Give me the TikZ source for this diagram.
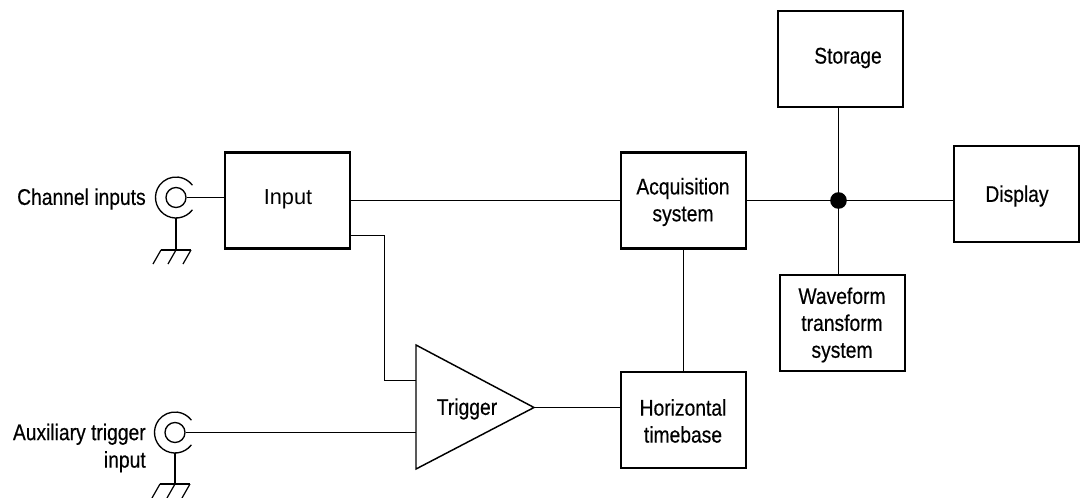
\documentclass[tikz,border=0pt]{standalone}
\usepackage{fontspec}
\setmainfont{Liberation Sans}
\newfontfamily\narrowf[FakeStretch=0.85,FakeBold=0.4]{Liberation Sans}
\tikzset{
  blk/.style={draw,line width=2.1pt,minimum width=93.75pt,minimum height=72pt,inner sep=0pt},
  blktext/.style={inner sep=0pt,align=center,font=\fontsize{17}{20.2}\narrowf},
  wire/.style={line width=1.05pt},
  lbl/.style={inner sep=0pt,align=right,anchor=east,font=\fontsize{17}{20.6}\narrowf},
  jack/.style={circle,draw,line width=1pt,minimum size=15pt,inner sep=0pt},
  jackarc/.style={line width=1pt},
  gnd/.style={line width=0.9pt},
  stem/.style={line width=1.3pt},
}
\begin{document}
\begin{tikzpicture}[x=0.75pt,y=-0.75pt]
\useasboundingbox (0,0) rectangle (1082,497);
% blocks
\node[blk] (input) at (287.5,200.5) {};
\node[blk] (acq) at (683.5,200.5) {};
\node[blk] (horiz) at (683.5,420) {};
\node[blk] (storage) at (840.5,59) {};
\node[blk] (display) at (1016.5,194) {};
\node[blk] (wave) at (842.5,323) {};
% block texts
\node[inner sep=0pt,font=\fontsize{16.3}{18}\selectfont] (inputtext) at (288,199) {Input};
\node[blktext] (acqtext) at (683,202) {Acquisition\\system};
\node[blktext] (horiztext) at (683,421) {Horizontal\\timebase};
\node[blktext] (storagetext) at (848,58) {Storage};
\node[blktext] (displaytext) at (1017,196) {Display};
\node[blktext] (wavetext) at (842,325) {Waveform\\transform\\system};
% trigger
\coordinate (trigTL) at (416,345);
\coordinate (trigBL) at (416,469);
\coordinate (trigR) at (534,407.5);
\draw[line width=1.1pt,line join=miter] (trigTL) -- (trigR) -- (trigBL) -- cycle;
\node[blktext] (trigtext) at (467,409) {Trigger};
% junction
\node[circle,fill=black,minimum size=12.5pt,inner sep=0pt] (dot) at (838.5,200.5) {};
% main wires
\draw[wire] (input.east) -- (acq.west);
\draw[wire] (acq.east) -- (dot.center);
\draw[wire] (dot.center) -- (dot.center -| display.west);
\draw[wire] (storage.south -| dot.center) -- (dot.center);
\draw[wire] (dot.center) -- (dot.center |- wave.north);
\draw[wire] (acq.south) -- (horiz.north);
\coordinate (inA) at (384.5,235.5);
\coordinate (inB) at (384.5,380.5);
\draw[wire] (inA -| input.east) -- (inA) -- (inB) -- (inB -| trigTL);
\draw[wire] (trigR) -- (trigR -| horiz.west);
% channel jack
\node[jack] (chan) at (176,197.5) {};
\draw[jackarc] (chan.center) ++(37:20.5) arc[start angle=37,end angle=323,radius=20.5];
\node[lbl] (chanlbl) at (146,199) {Channel inputs};
\draw[wire] (chan.east) -- (chan.center -| input.west);
\coordinate (chanG) at (176,250);
\draw[stem] (176,218) -- (chanG);
\draw[gnd] (161,250) -- (191,250);
\draw[gnd] (161,250) -- ++(-8,14) (176,250) -- ++(-8,14) (191,250) -- ++(-8,14);
% auxiliary jack
\node[jack] (aux) at (175,432.5) {};
\draw[jackarc] (aux.center) ++(37:20.5) arc[start angle=37,end angle=323,radius=20.5];
\node[lbl] (auxlbl) at (146,448) {Auxiliary trigger\\input};
\draw[wire] (aux.east) -- (aux.center -| trigBL);
\coordinate (auxG) at (175,484);
\draw[stem] (175,453) -- (auxG);
\draw[gnd] (160,484) -- (190,484);
\begin{scope}
\clip (100,470) rectangle (220,497);
\draw[gnd] (160,484) -- ++(-8,14) (175,484) -- ++(-8,14) (190,484) -- ++(-8,14);
\end{scope}
\end{tikzpicture}
\end{document}
